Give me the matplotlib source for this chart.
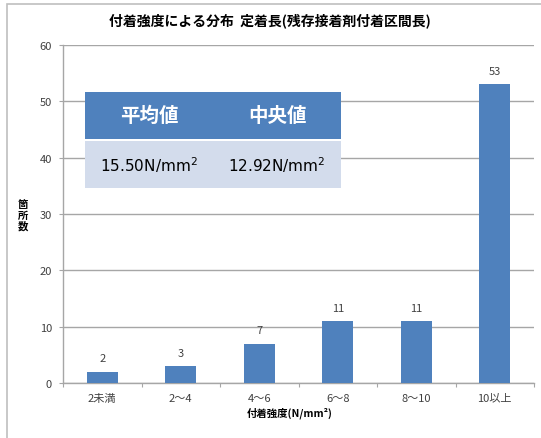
import matplotlib
matplotlib.use("Agg")
import matplotlib.pyplot as plt
from matplotlib.patches import Rectangle

plt.rcParams['font.family'] = ['Noto Sans CJK JP', 'DejaVu Sans']

categories = ["2未満", "2～4", "4～6", "6～8", "8～10", "10以上"]
counts = [2, 3, 7, 11, 11, 53]
title = "付着強度による分布  定着長(残存接着剤付着区間長)"
xlabel = "付着強度(N/mm²)"
ylabel = "箇\n所\n数"
table_headers = ["平均値", "中央値"]
table_values = ["15.50N/mm$^{2}$", "12.92N/mm$^{2}$"]

W, H = 541, 439
fig = plt.figure(figsize=(W/100, H/100), dpi=100)
fig.patch.set_facecolor("white")

# figure frame
fig.patches.append(Rectangle((7/W, -0.1), 1.2, 1 - 5/H + 0.1, transform=fig.transFigure,
                             fill=False, edgecolor="#BFBFBF", linewidth=1.2))

ax = fig.add_axes([63/W, 1 - 384/H, (534-63)/W, (384-46)/H])
x = list(range(len(categories)))
bars = ax.bar(x, counts, width=0.4, color="#4F81BD", zorder=3)
for xi, c in zip(x, counts):
    ax.text(xi, c + 1.5, str(c), ha="center", va="bottom", fontsize=8, color="#404040")

ax.set_xlim(-0.5, len(categories) - 0.5)
ax.set_ylim(0, 60)
ax.set_yticks(range(0, 61, 10))
ax.yaxis.grid(True, color="#A6A6A6", linewidth=1, zorder=0)
ax.set_axisbelow(True)
ax.set_xticks([i - 0.5 for i in range(len(categories) + 1)], minor=False)
ax.set_xticklabels([])
ax.set_xticks(x, minor=True)
ax.set_xticklabels(categories, minor=True, fontsize=8, color="#404040")
ax.tick_params(axis="x", which="minor", length=0, pad=7)
ax.tick_params(axis="x", which="major", length=3, color="#A6A6A6")
ax.tick_params(axis="y", length=3, color="#A6A6A6", labelsize=8, labelcolor="#404040", pad=5)
for s in ["top", "right"]:
    ax.spines[s].set_visible(False)
for s in ["left", "bottom"]:
    ax.spines[s].set_color("#A6A6A6")
    ax.spines[s].set_linewidth(1)

fig.text(270/W, 1 - 21/H, title, ha="center", va="center", fontsize=10, fontweight="bold")
fig.text(290/W, 1 - 413/H, xlabel, ha="center", va="center", fontsize=7.5, fontweight="bold")
fig.text(23/W, 1 - 216/H, ylabel, ha="center", va="center", fontsize=7.5, fontweight="bold",
         linespacing=1.05)

# table
col_edges = [85, 213, 341]
hdr_top, hdr_bot = 93, 140
body_top, body_bot = 142, 189
for i in range(2):
    x0, x1 = col_edges[i], col_edges[i+1]
    fig.patches.append(Rectangle((x0/W, 1 - hdr_bot/H), (x1-x0)/W, (hdr_bot-hdr_top)/H,
                                 transform=fig.transFigure, facecolor="#4F81BD", edgecolor="none", zorder=5))
    fig.patches.append(Rectangle((x0/W, 1 - body_bot/H), (x1-x0)/W, (body_bot-body_top)/H,
                                 transform=fig.transFigure, facecolor="#D3DCEC", edgecolor="none", zorder=5))
    cx = (x0 + x1) / 2
    fig.text(cx/W, 1 - (hdr_top+hdr_bot)/2/H, table_headers[i], ha="center", va="center",
             fontsize=14, fontweight="bold", color="white", zorder=6)
    fig.text(cx/W, 1 - (body_top+body_bot)/2/H, table_values[i], ha="center", va="center",
             fontsize=11, color="black", zorder=6, family="DejaVu Sans")

fig.savefig("out.png", dpi=100)
